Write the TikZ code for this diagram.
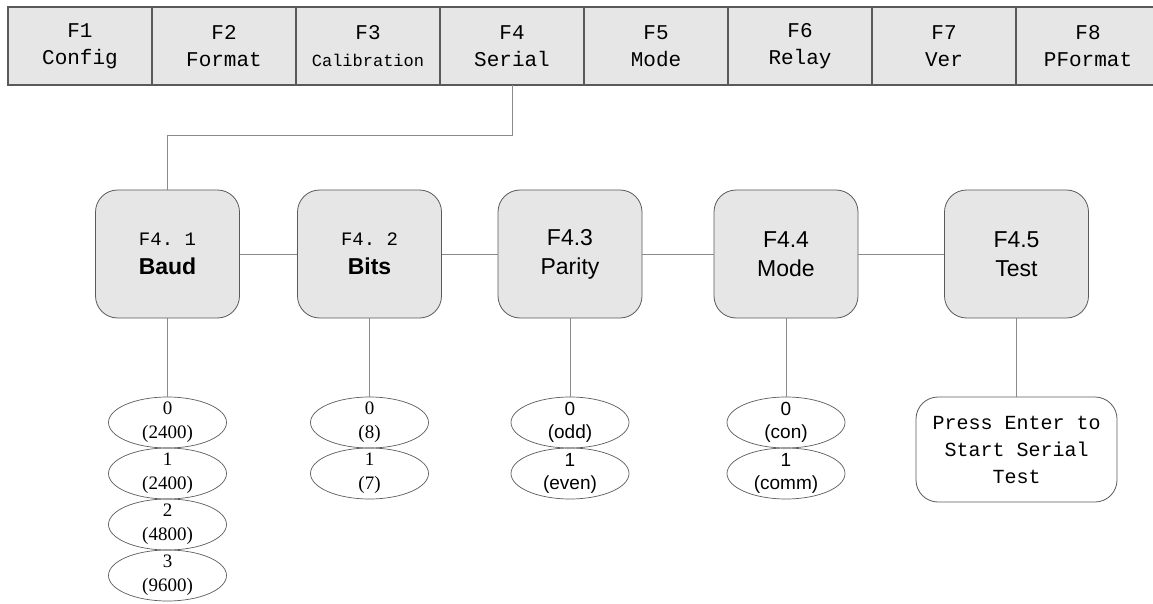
\documentclass[tikz,border=0pt]{standalone}
\usepackage{fontspec}
\setmainfont{Liberation Serif}
\setsansfont{Liberation Sans}
\setmonofont{Liberation Mono}
\usepackage{tikz}
\usetikzlibrary{shapes.geometric,positioning}
\definecolor{boxgray}{HTML}{E6E6E6}
\definecolor{linegray}{HTML}{8A8A8A}
\definecolor{edgegray}{HTML}{5A5A5A}
\tikzset{
  fkey/.style    ={draw=edgegray, fill=boxgray, minimum width=144pt,
                   minimum height=78pt, inner sep=0pt, outer sep=0pt,
                   align=center, line width=1.2pt,
                   font=\ttfamily\fontsize{21}{27}\selectfont},
  menu/.style    ={draw=edgegray, fill=boxgray, rounded corners=22pt,
                   minimum width=144pt, minimum height=128pt,
                   align=center, line width=0.8pt,
                   font=\fontsize{23}{29}\selectfont},
  optell/.style  ={draw=edgegray, ellipse, minimum width=118pt,
                   minimum height=51pt, inner xsep=0pt, inner ysep=-12pt,
                   align=center, line width=0.7pt,
                   font=\fontsize{19}{24}\selectfont},
  optsans/.style ={optell, font=\sffamily\fontsize{19}{23}\selectfont},
  testbox/.style ={draw=edgegray, rounded corners=22pt, minimum width=201pt,
                   minimum height=105pt, align=center, line width=0.8pt,
                   font=\ttfamily\fontsize{20}{27}\selectfont},
  link/.style    ={draw=linegray, line width=1pt},
}
\newcommand{\fnum}[1]{{\ttfamily\fontsize{19}{29}\selectfont #1}}

\begin{document}
\begin{tikzpicture}[x=1pt,y=-1pt]
  \useasboundingbox (0,0) rectangle (1153,604);
  % top: function keys
  \node[fkey] (f1) at (80,46) {F1\\Config};
  \node[fkey, right=0pt of f1] (f2) {F2\\Format};
  \node[fkey, right=0pt of f2] (f3) {F3\\{\fontsize{17}{27}\selectfont Calibration}};
  \node[fkey, right=0pt of f3] (f4) {F4\\Serial};
  \node[fkey, right=0pt of f4] (f5) {F5\\Mode};
  \node[fkey, right=0pt of f5] (f6) {F6\\Relay};
  \node[fkey, right=0pt of f6] (f7) {F7\\Ver};
  \node[fkey, right=0pt of f7] (f8) {F8\\PFormat};
  % middle: serial sub-menus
  \node[menu] (baud)   at (167.5,254) {\fnum{F4. 1}\\\sffamily\bfseries Baud};
  \node[menu] (bits)   at (369.5,254) {\fnum{F4. 2}\\\sffamily\bfseries Bits};
  \node[menu] (parity) at (570,254)   {\sffamily F4.3\\\sffamily Parity};
  \node[menu] (mode)   at (786,254)   {\sffamily F4.4\\\sffamily Mode};
  \node[menu] (test)   at (1016.5,254){\sffamily F4.5\\\sffamily Test};
  \draw[link] (f4.south) -- ++(0,51) -| (baud.north);
  \draw[link] (baud) -- (bits);
  \draw[link] (bits) -- (parity);
  \draw[link] (parity) -- (mode);
  \draw[link] (mode) -- (test);
  % bottom: values
  \node[optell] (baud0) at (167.5,422.5) {0\\(2400)};
  \node[optell] (baud1) at (167.5,473.5) {1\\(2400)};
  \node[optell] (baud2) at (167.5,524.5) {2\\(4800)};
  \node[optell] (baud3) at (167.5,575.5) {3\\(9600)};
  \node[optell] (bits0) at (369.5,422.5) {0\\(8)};
  \node[optell] (bits1) at (369.5,473.5) {1\\(7)};
  \node[optsans] (par0) at (570,422.5) {0\\(odd)};
  \node[optsans] (par1) at (570,473.5) {1\\(even)};
  \node[optsans] (mode0) at (786,422.5) {0\\(con)};
  \node[optsans] (mode1) at (786,473.5) {1\\(comm)};
  \node[testbox] (run) at (1016.5,449.5) {Press Enter to\\Start Serial\\Test};
  \draw[link] (baud.south) -- (baud0.north);
  \draw[link] (bits.south) -- (bits0.north);
  \draw[link] (parity.south) -- (par0.north);
  \draw[link] (mode.south) -- (mode0.north);
  \draw[link] (test.south) -- (run.north);
\end{tikzpicture}
\end{document}
